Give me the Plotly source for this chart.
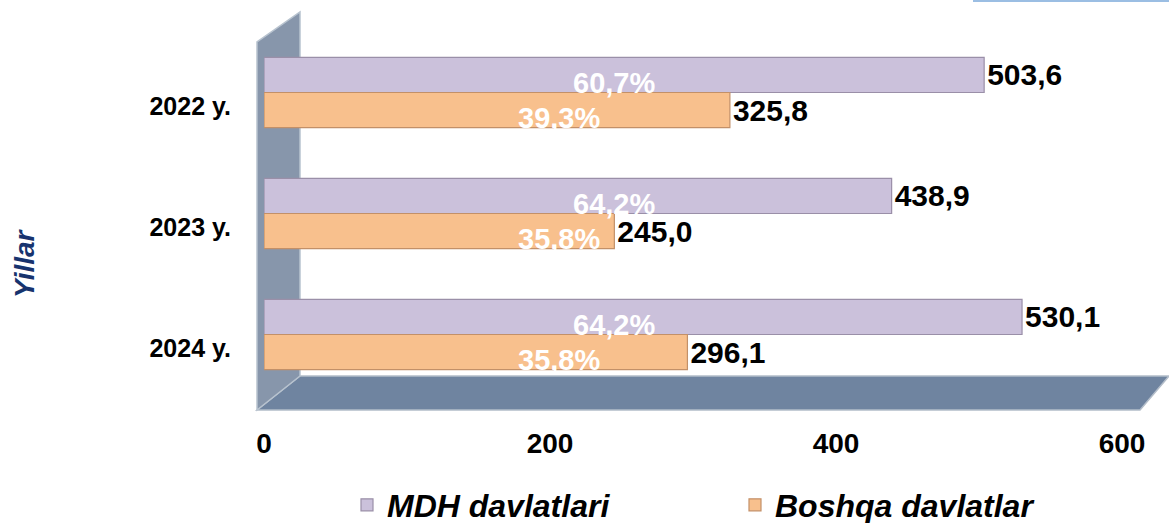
import plotly.graph_objects as go

# ---- data ----
years = ["2022 y.", "2023 y.", "2024 y."]
mdh_values = [503.6, 438.9, 530.1]
other_values = [325.8, 245.0, 296.1]
mdh_pct = ["60,7%", "64,2%", "64,2%"]
other_pct = ["39,3%", "35,8%", "35,8%"]
series_names = ["MDH davlatlari", "Boshqa davlatlar"]
x_ticks = [0, 200, 400, 600]
axis_title = "Yillar"

# ---- layout geometry (pixels) ----
W, H = 1169, 523
PX0, PX1, PY0, PY1 = 264, 1122, 32, 395


def px(x):
    return (x - PX0) / (PX1 - PX0)


def py(y):
    return (PY1 - y) / (PY1 - PY0)


def path(points):
    s = "M " + " L ".join(f"{px(a):.5f},{py(b):.5f}" for a, b in points)
    return s + " Z"


FONT = "Liberation Sans, Arial, sans-serif"

fig = go.Figure()
fig.add_trace(go.Bar(
    y=years, x=mdh_values, orientation="h", name=series_names[0],
    marker=dict(color="#CBC1DB", line=dict(color="#9A8FA8", width=1.2)),
    texttemplate="%{x:.1f}", textposition="outside", cliponaxis=False,
    textfont=dict(family=FONT, size=30, color="black", weight="bold"),
))
fig.add_trace(go.Bar(
    y=years, x=other_values, orientation="h", name=series_names[1],
    marker=dict(color="#F8C08D", line=dict(color="#C39068", width=1.2)),
    texttemplate="%{x:.1f}", textposition="outside", cliponaxis=False,
    textfont=dict(family=FONT, size=30, color="black", weight="bold"),
))

annotations = []
for yr, p in zip(years, mdh_pct):
    annotations.append(dict(x=245, y=yr, xref="x", yref="y", text=p, showarrow=False,
                            yshift=10, font=dict(family=FONT, size=29, color="white", weight="bold")))
for yr, p in zip(years, other_pct):
    annotations.append(dict(x=206, y=yr, xref="x", yref="y", text=p, showarrow=False,
                            yshift=-25, font=dict(family=FONT, size=29, color="white", weight="bold")))
annotations.append(dict(x=px(24), y=py(263), xref="paper", yref="paper", text=axis_title,
                        showarrow=False, textangle=-90, xanchor="center", yanchor="middle",
                        font=dict(family=FONT, size=28, color="#17336E", weight="bold", style="italic")))

shapes = [
    dict(type="path", xref="paper", yref="paper", layer="below",
         path=path([(257, 410), (1140, 410), (1169, 376), (300, 376)]),
         fillcolor="#6F84A0", line=dict(color="#B3BDC9", width=1.5)),
    dict(type="path", xref="paper", yref="paper", layer="below",
         path=path([(257, 410), (257, 42), (300, 12), (300, 376)]),
         fillcolor="#8796AB", line=dict(color="#B8C3CF", width=1.5)),
    dict(type="line", xref="paper", yref="paper", layer="below",
         x0=px(973), x1=px(1169), y0=py(1), y1=py(1),
         line=dict(color="#9BBEE3", width=2)),
]

fig.update_layout(
    width=W, height=H,
    margin=dict(l=PX0, r=W - PX1, t=PY0, b=H - PY1, autoexpand=False),
    paper_bgcolor="white", plot_bgcolor="rgba(0,0,0,0)",
    barmode="group", bargap=0.42, bargroupgap=0,
    separators=", ",
    showlegend=True,
    legend=dict(orientation="h", x=px(347), y=py(505), xanchor="left", yanchor="middle",
                entrywidth=343, entrywidthmode="pixels", bgcolor="rgba(0,0,0,0)",
                font=dict(family=FONT, size=32, color="black", weight="bold", style="italic")),
    annotations=annotations,
    shapes=shapes,
    xaxis=dict(range=[0, 600], tickvals=x_ticks, showgrid=False, zeroline=False,
               showline=False, ticks="", ticklabelstandoff=29, automargin=False,
               tickfont=dict(family=FONT, size=28, color="black", weight="bold")),
    yaxis=dict(type="category", categoryarray=years, categoryorder="array",
               autorange="reversed", showgrid=False, zeroline=False, showline=False,
               ticks="", ticklabelstandoff=32, ticklabelshift=-14, automargin=False,
               tickfont=dict(family=FONT, size=25, color="black", weight="bold")),
)

fig.write_html("out.html", config={"displayModeBar": False},
               post_script="document.body.style.margin='0';")
